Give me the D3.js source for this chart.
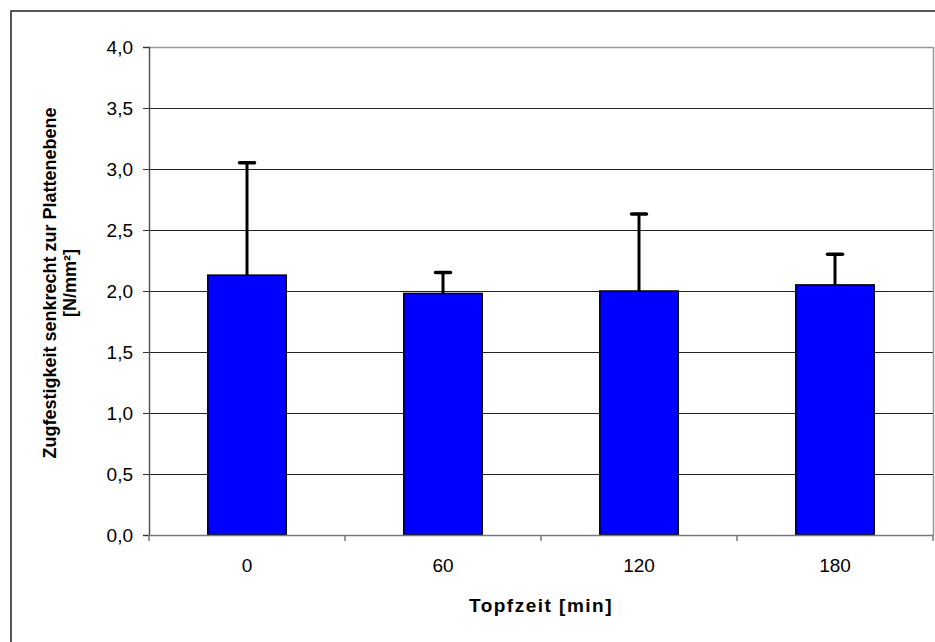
<!DOCTYPE html>
<html>
<head>
<meta charset="utf-8">
<script src="https://cdn.jsdelivr.net/npm/d3@7"></script>
<style>
  html, body { margin: 0; padding: 0; background: #fff; }
  svg { display: block; font-family: "Liberation Sans", Arial, sans-serif; }
</style>
</head>
<body>
<svg id="chart" width="935" height="642"></svg>
<script>
const categories = ["0", "60", "120", "180"];
const means = [2.13, 1.98, 2.00, 2.05];
const errors = [0.93, 0.18, 0.64, 0.26];
const yTicks = [0, 0.5, 1.0, 1.5, 2.0, 2.5, 3.0, 3.5, 4.0];
const xTitle = "Topfzeit [min]";
const yTitleLines = ["Zugfestigkeit senkrecht zur Plattenebene", "[N/mm²]"];

const svg = d3.select("#chart");
const plot = { left: 149, right: 933, top: 47, bottom: 535 };

// outer frame
svg.append("rect")
  .attr("x", 11).attr("y", 11)
  .attr("width", 950).attr("height", 660)
  .attr("fill", "none").attr("stroke", "#222").attr("stroke-width", 1.5);

const x = d3.scaleBand().domain(categories)
  .range([plot.left, plot.right]).paddingInner(0.6).paddingOuter(0.3);
const xEdge = d3.scaleLinear().domain([0, categories.length]).range([plot.left, plot.right]);
const y = d3.scaleLinear().domain([0, 4]).range([plot.bottom, plot.top]);

const fmt = d => d3.format(".1f")(d).replace(".", ",");

// gridlines
svg.append("g").selectAll("line")
  .data(yTicks.filter(t => t > 0 && t < 4))
  .join("line")
  .attr("x1", plot.left).attr("x2", plot.right)
  .attr("y1", d => Math.round(y(d)) + 0.5).attr("y2", d => Math.round(y(d)) + 0.5)
  .attr("stroke", "#222").attr("stroke-width", 1);

// plot top & right border (gray)
svg.append("path")
  .attr("d", `M${plot.left},${plot.top + 0.5}H${plot.right + 0.5}V${plot.bottom}`)
  .attr("fill", "none").attr("stroke", "#999").attr("stroke-width", 1.5);

// bars
svg.append("g").selectAll("rect")
  .data(categories)
  .join("rect")
  .attr("x", d => x(d))
  .attr("y", (d, i) => y(means[i]))
  .attr("width", x.bandwidth())
  .attr("height", (d, i) => y(0) - y(means[i]))
  .attr("fill", "#0000ff")
  .attr("stroke", "#000").attr("stroke-width", 1.5);

// error bars (upper only)
const eb = svg.append("g");
categories.forEach((c, i) => {
  const cx = x(c) + x.bandwidth() / 2;
  const top = y(means[i] + errors[i]);
  eb.append("line")
    .attr("x1", cx).attr("x2", cx)
    .attr("y1", y(means[i])).attr("y2", top)
    .attr("stroke", "#000").attr("stroke-width", 3);
  eb.append("line")
    .attr("x1", cx - 7.5).attr("x2", cx + 7.5)
    .attr("y1", top + 1).attr("y2", top + 1)
    .attr("stroke", "#000").attr("stroke-width", 3.5).attr("stroke-linecap", "round");
});

// y axis
const yAxis = svg.append("g")
  .attr("transform", `translate(${plot.left},0)`)
  .call(d3.axisLeft(y).tickValues(yTicks).tickFormat(fmt).tickSize(6).tickPadding(10));
yAxis.select(".domain").attr("stroke", "#555").attr("stroke-width", 1.5);
yAxis.selectAll(".tick line").attr("stroke", "#333");
yAxis.selectAll("text").attr("font-size", 19).attr("fill", "#000")
  .attr("font-family", "'Liberation Sans', Arial, sans-serif");

// x axis line & ticks at category boundaries
svg.append("line")
  .attr("x1", plot.left).attr("x2", plot.right + 0.5)
  .attr("y1", plot.bottom + 0.5).attr("y2", plot.bottom + 0.5)
  .attr("stroke", "#777").attr("stroke-width", 1.5);
svg.append("g").selectAll("line")
  .data(d3.range(categories.length + 1))
  .join("line")
  .attr("x1", d => xEdge(d)).attr("x2", d => xEdge(d))
  .attr("y1", plot.bottom).attr("y2", plot.bottom + 6)
  .attr("stroke", "#777").attr("stroke-width", 1.5);

// x tick labels
svg.append("g").selectAll("text")
  .data(categories)
  .join("text")
  .attr("x", d => x(d) + x.bandwidth() / 2)
  .attr("y", 572)
  .attr("text-anchor", "middle")
  .attr("font-size", 19)
  .text(d => d);

// x title
svg.append("text")
  .attr("x", (plot.left + plot.right) / 2)
  .attr("y", 612)
  .attr("text-anchor", "middle")
  .attr("font-size", 19).attr("font-weight", "bold")
  .attr("letter-spacing", 1.5)
  .text(xTitle);

// y title
const yt = svg.append("text")
  .attr("transform", "translate(0,283) rotate(-90)")
  .attr("text-anchor", "middle")
  .attr("font-size", 18).attr("font-weight", "bold");
yTitleLines.forEach((l, i) => {
  yt.append("tspan").attr("x", 0).attr("y", 56 + i * 20).text(l);
});
</script>
</body>
</html>
